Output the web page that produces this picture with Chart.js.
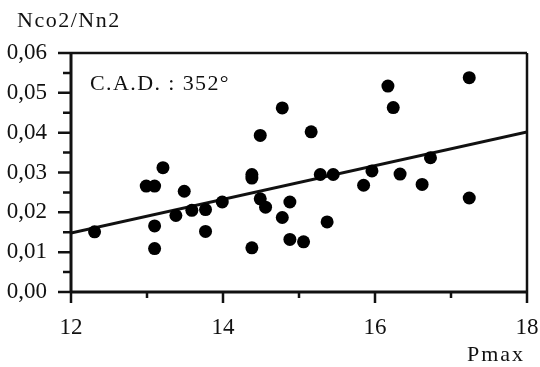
<!DOCTYPE html>
<html>
<head>
<meta charset="utf-8">
<script src="https://cdn.jsdelivr.net/npm/chart.js@4.4.1/dist/chart.umd.min.js"></script>
<style>
  html, body { margin: 0; padding: 0; background: #fff; }
  #wrap { width: 540px; height: 367px; }
</style>
</head>
<body>
<div id="wrap"><canvas id="c" width="540" height="367"></canvas></div>
<script>
// ---- data ----
const pmax = [12.31, 12.99, 13.10, 13.21, 13.10, 13.10, 13.38, 13.49, 13.59, 13.77,
              13.77, 13.99, 14.38, 14.38, 14.38, 14.49, 14.49, 14.56, 14.78, 14.88,
              14.78, 14.88, 15.06, 15.16, 15.28, 15.45, 15.37, 15.85, 15.96, 16.33,
              16.17, 16.24, 16.73, 16.62, 17.24, 17.24];
const ratio = [0.0151, 0.0266, 0.0266, 0.0312, 0.0166, 0.0109, 0.0192, 0.0253, 0.0205, 0.0207,
               0.0152, 0.0226, 0.0111, 0.0295, 0.0286, 0.0393, 0.0234, 0.0213, 0.0462, 0.0226,
               0.0187, 0.0132, 0.0126, 0.0402, 0.0295, 0.0295, 0.0176, 0.0268, 0.0304, 0.0296,
               0.0517, 0.0463, 0.0337, 0.0270, 0.0538, 0.0236];
const fitX = [12, 18];
const fitY = [0.0148, 0.0402];
const xMajorTicks = [12, 14, 16, 18];
const xMinorTicks = [13, 15, 17];
const yMajorTicks = [0, 0.01, 0.02, 0.03, 0.04, 0.05, 0.06];
const yMinorTicks = [0.005, 0.015, 0.025, 0.035, 0.045, 0.055];
const yTitle = 'Nco2/Nn2';
const xTitle = 'Pmax';
const note = 'C.A.D. : 352°';

const FONT = '"Liberation Serif", "Times New Roman", serif';

const framePlugin = {
  id: 'frame',
  afterDraw(chart) {
    const { ctx, chartArea: a, scales: { x, y } } = chart;
    ctx.save();
    ctx.strokeStyle = '#111';
    ctx.lineCap = 'butt';
    // frame
    ctx.lineWidth = 2.5;
    ctx.beginPath();
    ctx.moveTo(a.left, a.top); ctx.lineTo(a.right, a.top);
    ctx.moveTo(a.right, a.top); ctx.lineTo(a.right, a.bottom);
    ctx.stroke();
    ctx.lineWidth = 3;
    ctx.beginPath();
    ctx.moveTo(a.left, a.top - 1); ctx.lineTo(a.left, a.bottom + 1);
    ctx.moveTo(a.left, a.bottom); ctx.lineTo(a.right, a.bottom);
    ctx.stroke();
    // y ticks
    ctx.lineWidth = 2.5;
    ctx.beginPath();
    yMajorTicks.forEach(v => { const p = y.getPixelForValue(v); ctx.moveTo(a.left - 13, p); ctx.lineTo(a.left, p); });
    yMinorTicks.forEach(v => { const p = y.getPixelForValue(v); ctx.moveTo(a.left - 8, p); ctx.lineTo(a.left, p); });
    // x ticks
    xMajorTicks.forEach(v => { const p = x.getPixelForValue(v); ctx.moveTo(p, a.bottom); ctx.lineTo(p, a.bottom + 11); });
    xMinorTicks.forEach(v => { const p = x.getPixelForValue(v); ctx.moveTo(p, a.bottom); ctx.lineTo(p, a.bottom + 6); });
    ctx.stroke();
    // texts
    ctx.fillStyle = '#111';
    ctx.font = '22px ' + FONT;
    ctx.textBaseline = 'alphabetic';
    ctx.textAlign = 'left';
    ctx.letterSpacing = '1.5px';
    ctx.fillText(yTitle, 17, 27);
    ctx.letterSpacing = '1.4px';
    ctx.fillText(note, 90, 90);
    ctx.textAlign = 'left';
    ctx.letterSpacing = '2px';
    ctx.fillText(xTitle, 467, 361);
    ctx.letterSpacing = '0px';
    ctx.restore();
  }
};

new Chart(document.getElementById('c'), {
  type: 'scatter',
  data: {
    datasets: [
      {
        type: 'line',
        data: fitX.map((v, i) => ({ x: v, y: fitY[i] })),
        borderColor: '#111',
        borderWidth: 3,
        pointRadius: 0,
        fill: false,
        order: 2
      },
      {
        data: pmax.map((v, i) => ({ x: v, y: ratio[i] })),
        backgroundColor: '#000',
        borderColor: '#000',
        pointRadius: 6.5,
        pointHoverRadius: 6.5,
        borderWidth: 0,
        order: 1
      }
    ]
  },
  options: {
    responsive: false,
    devicePixelRatio: 1,
    animation: false,
    events: [],
    layout: { padding: { top: 53, right: 13, left: 0, bottom: 0 } },
    plugins: { legend: { display: false }, tooltip: { enabled: false }, title: { display: false } },
    scales: {
      x: {
        type: 'linear', min: 12, max: 18,
        afterFit(s) { s.height = 75; s.paddingLeft = 0; s.paddingRight = 0; s.paddingTop = 0; s.paddingBottom = 0; },
        afterBuildTicks(s) { s.ticks = xMajorTicks.map(v => ({ value: v })); },
        ticks: { color: '#111', font: { family: FONT, size: 23 }, padding: 22, maxRotation: 0,
                 callback: v => String(v) },
        grid: { display: false, drawTicks: false },
        border: { display: false }
      },
      y: {
        type: 'linear', min: 0, max: 0.06,
        afterFit(s) { s.width = 71; s.paddingLeft = 0; s.paddingRight = 0; s.paddingTop = 0; s.paddingBottom = 0; },
        afterBuildTicks(s) { s.ticks = yMajorTicks.map(v => ({ value: v })); },
        ticks: { color: '#111', font: { family: FONT, size: 23 }, padding: 24,
                 callback: v => Number(v).toFixed(2).replace('.', ',') },
        grid: { display: false, drawTicks: false },
        border: { display: false }
      }
    }
  },
  plugins: [framePlugin]
});
</script>
</body>
</html>
